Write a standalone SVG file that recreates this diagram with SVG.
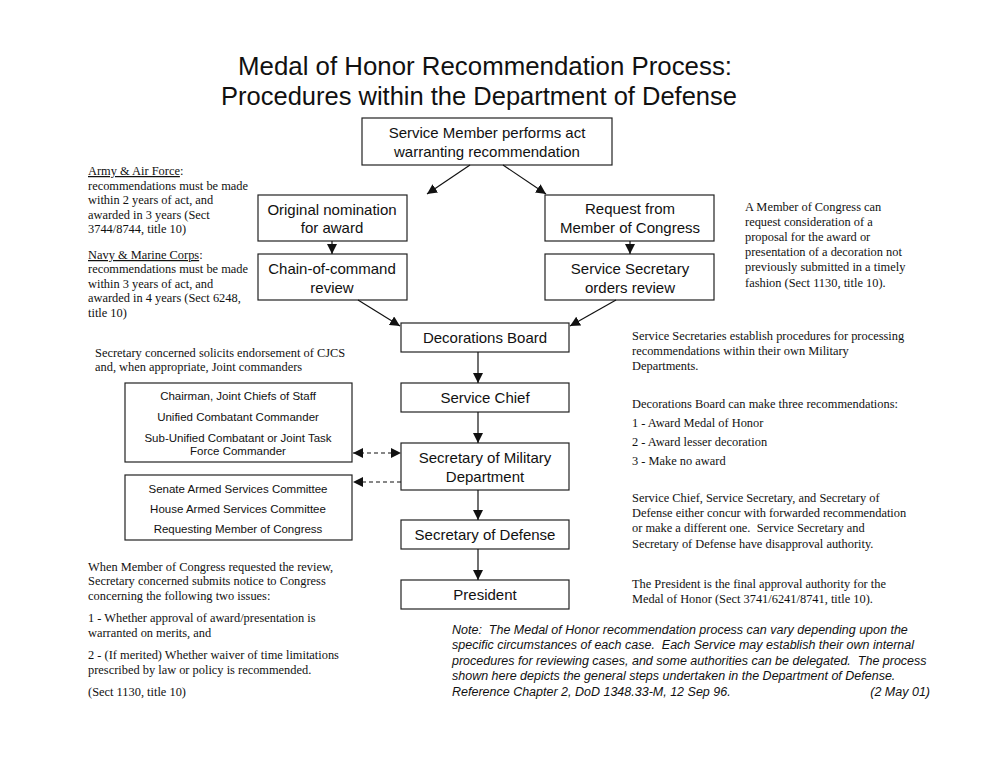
<svg xmlns="http://www.w3.org/2000/svg" width="1000" height="773" viewBox="0 0 1000 773">
<defs>
<marker id="ah" viewBox="0 0 10 10" refX="10" refY="5" markerWidth="10" markerHeight="10" markerUnits="userSpaceOnUse" orient="auto-start-reverse"><path d="M0,0 L10,5 L0,10 z" fill="#111"/></marker>
<style>
.box{fill:#fff;stroke:#222;stroke-width:1.2}
.bt{font-family:"Liberation Sans",Arial,sans-serif;font-size:15px;fill:#111;text-anchor:middle}
.st{font-family:"Liberation Sans",Arial,sans-serif;font-size:11.5px;fill:#111;text-anchor:middle}
.tt{font-family:"Liberation Sans",Arial,sans-serif;font-size:25.5px;fill:#111;text-anchor:middle}
.nt{font-family:"Liberation Serif","Times New Roman",serif;font-size:12.4px;fill:#111;white-space:pre}
.it{font-family:"Liberation Sans",Arial,sans-serif;font-size:12.5px;font-style:italic;fill:#111;white-space:pre}
.ln{stroke:#111;stroke-width:1.2;fill:none}
.dl{stroke:#111;stroke-width:1.2;fill:none;stroke-dasharray:4,3}
</style>
</defs>
<rect width="1000" height="773" fill="#fff"/>
<g id="title">
<text class="tt" x="485" y="75" textLength="494" lengthAdjust="spacingAndGlyphs">Medal of Honor Recommendation Process:</text>
<text class="tt" x="479" y="105">Procedures within the Department of Defense</text>
</g>
<g id="n-act"><rect class="box" x="362" y="118" width="250" height="47"/><text class="bt" x="487" y="138">Service Member performs act</text><text class="bt" x="487" y="157">warranting recommendation</text></g>
<g id="n-orig"><rect class="box" x="258" y="195" width="149" height="46"/><text class="bt" x="332" y="215">Original nomination</text><text class="bt" x="332" y="233">for award</text></g>
<g id="n-chain"><rect class="box" x="258" y="254" width="149" height="46"/><text class="bt" x="332" y="274">Chain-of-command</text><text class="bt" x="332" y="293">review</text></g>
<g id="n-req"><rect class="box" x="545" y="195" width="169" height="46"/><text class="bt" x="630" y="214">Request from</text><text class="bt" x="630" y="233">Member of Congress</text></g>
<g id="n-ssec"><rect class="box" x="545" y="254" width="169" height="46"/><text class="bt" x="630" y="274">Service Secretary</text><text class="bt" x="630" y="293">orders review</text></g>
<g id="n-board"><rect class="box" x="401" y="323" width="168" height="29"/><text class="bt" x="485" y="343">Decorations Board</text></g>
<g id="n-chief"><rect class="box" x="401" y="383" width="168" height="29"/><text class="bt" x="485" y="403">Service Chief</text></g>
<g id="n-secmil"><rect class="box" x="401" y="443" width="168" height="47"/><text class="bt" x="485" y="463">Secretary of Military</text><text class="bt" x="485" y="482">Department</text></g>
<g id="n-secdef"><rect class="box" x="401" y="520" width="168" height="29"/><text class="bt" x="485" y="540">Secretary of Defense</text></g>
<g id="n-pres"><rect class="box" x="401" y="580" width="168" height="29"/><text class="bt" x="485" y="600">President</text></g>
<g id="n-joint"><rect class="box" x="125" y="383" width="227" height="79"/>
<text class="st" x="238" y="400">Chairman, Joint Chiefs of Staff</text>
<text class="st" x="238" y="421">Unified Combatant Commander</text>
<text class="st" x="238" y="442">Sub-Unified Combatant or Joint Task</text>
<text class="st" x="238" y="455">Force Commander</text></g>
<g id="n-cong"><rect class="box" x="125" y="475" width="227" height="65"/>
<text class="st" x="238" y="493">Senate Armed Services Committee</text>
<text class="st" x="238" y="513">House Armed Services Committee</text>
<text class="st" x="238" y="533">Requesting Member of Congress</text></g>
<g id="connectors">
<path class="ln" d="M470,165 L427,194" marker-end="url(#ah)"/>
<path class="ln" d="M503,165 L546,194" marker-end="url(#ah)"/>
<path class="ln" d="M332,241 L332,254" marker-end="url(#ah)"/>
<path class="ln" d="M630,241 L630,254" marker-end="url(#ah)"/>
<path class="ln" d="M358,300 L400,326" marker-end="url(#ah)"/>
<path class="ln" d="M616,300 L570,326" marker-end="url(#ah)"/>
<path class="ln" d="M478,352 L478,383" marker-end="url(#ah)"/>
<path class="ln" d="M478,412 L478,443" marker-end="url(#ah)"/>
<path class="ln" d="M478,490 L478,520" marker-end="url(#ah)"/>
<path class="ln" d="M478,549 L478,580" marker-end="url(#ah)"/>
<path class="dl" d="M353,453 L401,453" marker-start="url(#ah)" marker-end="url(#ah)"/>
<path class="dl" d="M401,482 L353,482" marker-end="url(#ah)"/>
</g>
<g id="notes-left">
<text class="nt" x="88" y="175"><tspan text-decoration="underline">Army &amp; Air Force</tspan>:</text>
<text class="nt" x="88" y="190">recommendations must be made</text>
<text class="nt" x="88" y="204">within 2 years of act, and</text>
<text class="nt" x="88" y="219">awarded in 3 years (Sect</text>
<text class="nt" x="88" y="233">3744/8744, title 10)</text>
<text class="nt" x="88" y="259"><tspan text-decoration="underline">Navy &amp; Marine Corps</tspan>:</text>
<text class="nt" x="88" y="273">recommendations must be made</text>
<text class="nt" x="88" y="288">within 3 years of act, and</text>
<text class="nt" x="88" y="302">awarded in 4 years (Sect 6248,</text>
<text class="nt" x="88" y="317">title 10)</text>
<text class="nt" x="95" y="357">Secretary concerned solicits endorsement of CJCS</text>
<text class="nt" x="95" y="371">and, when appropriate, Joint commanders</text>
<text class="nt" x="88" y="571">When Member of Congress requested the review,</text>
<text class="nt" x="88" y="585">Secretary concerned submits notice to Congress</text>
<text class="nt" x="88" y="600">concerning the following two issues:</text>
<text class="nt" x="88" y="622">1 - Whether approval of award/presentation is</text>
<text class="nt" x="88" y="637">warranted on merits, and</text>
<text class="nt" x="88" y="659">2 - (If merited) Whether waiver of time limitations</text>
<text class="nt" x="88" y="674">prescribed by law or policy is recommended.</text>
<text class="nt" x="88" y="696">(Sect 1130, title 10)</text>
</g>
<g id="notes-right">
<text class="nt" x="745" y="211">A Member of Congress can</text>
<text class="nt" x="745" y="226">request consideration of a</text>
<text class="nt" x="745" y="241">proposal for the award or</text>
<text class="nt" x="745" y="256">presentation of a decoration not</text>
<text class="nt" x="745" y="271">previously submitted in a timely</text>
<text class="nt" x="745" y="287">fashion (Sect 1130, title 10).</text>
<text class="nt" x="632" y="340">Service Secretaries establish procedures for processing</text>
<text class="nt" x="632" y="355">recommendations within their own Military</text>
<text class="nt" x="632" y="370">Departments.</text>
<text class="nt" x="632" y="408">Decorations Board can make three recommendations:</text>
<text class="nt" x="632" y="427">1 - Award Medal of Honor</text>
<text class="nt" x="632" y="446">2 - Award lesser decoration</text>
<text class="nt" x="632" y="465">3 - Make no award</text>
<text class="nt" x="632" y="502">Service Chief, Service Secretary, and Secretary of</text>
<text class="nt" x="632" y="517">Defense either concur with forwarded recommendation</text>
<text class="nt" x="632" y="532">or make a different one.  Service Secretary and</text>
<text class="nt" x="632" y="548">Secretary of Defense have disapproval authority.</text>
<text class="nt" x="632" y="588">The President is the final approval authority for the</text>
<text class="nt" x="632" y="603">Medal of Honor (Sect 3741/6241/8741, title 10).</text>
</g>
<g id="note-bottom">
<text class="it" x="452" y="634">Note:  The Medal of Honor recommendation process can vary depending upon the</text>
<text class="it" x="452" y="649">specific circumstances of each case.  Each Service may establish their own internal</text>
<text class="it" x="452" y="665">procedures for reviewing cases, and some authorities can be delegated.  The process</text>
<text class="it" x="452" y="680">shown here depicts the general steps undertaken in the Department of Defense.</text>
<text class="it" x="452" y="696">Reference Chapter 2, DoD 1348.33-M, 12 Sep 96.</text>
<text class="it" x="930" y="696" text-anchor="end">(2 May 01)</text>
</g>
</svg>
